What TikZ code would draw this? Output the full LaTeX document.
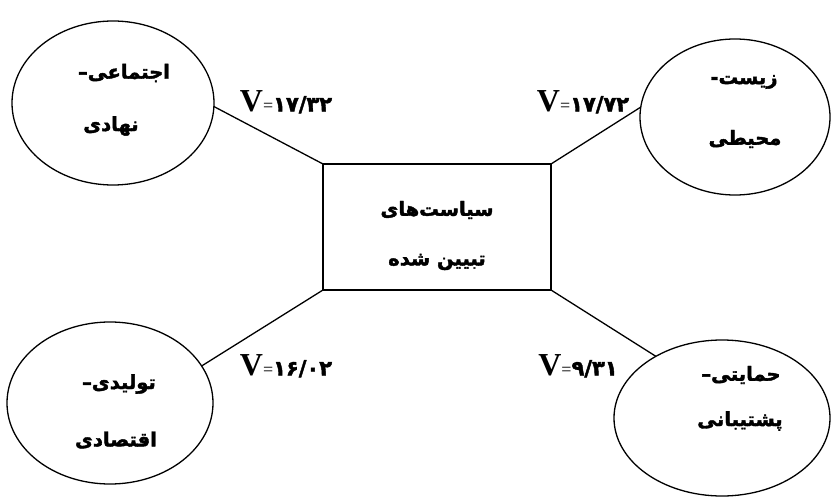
\documentclass[tikz,border=0pt]{standalone}
\usepackage{fontspec}
\usetikzlibrary{shapes.geometric}
\TeXXeTstate=1
\newfontfamily\fa[Script=Arabic,FakeBold=2]{DejaVu Sans Bold}
\newfontfamily\lserif{Liberation Serif}
\newcommand\vlab[1]{{\lserif\bfseries\fontsize{32}{32}\selectfont V}{\lserif\fontsize{18}{18}\selectfont =}{\fa\fontsize{21}{21}\selectfont #1}}
\newcommand\fat[1]{{\fa\fontsize{19.5}{19.5}\selectfont\beginR #1\endR}}
\begin{document}
\begin{tikzpicture}[x=1pt,y=-1pt,
  ell/.style={draw, line width=1.3pt, ellipse, inner sep=0pt, outer sep=0pt},
  box/.style={draw, line width=1.3pt, rectangle, inner sep=0pt, outer sep=0pt},
  txt/.style={inner sep=0pt, anchor=center},
  conn/.style={line width=1.3pt}]
\useasboundingbox (0,0) rectangle (833,497);
% ellipses
\node[ell, minimum width=202pt, minimum height=164pt] (tl) at (113,103) {};
\node[ell, minimum width=190pt, minimum height=156pt] (tr) at (735,117) {};
\node[ell, minimum width=206pt, minimum height=162pt] (bl) at (110,403) {};
\node[ell, minimum width=216pt, minimum height=156pt] (br) at (722,418) {};
% central box
\node[box, minimum width=228pt, minimum height=126pt] (c) at (437,227) {};
% texts
\node[txt] (tl1) at (124,73) {\fat{اجتماعی–}};
\node[txt] (tl2) at (111,126) {\fat{نهادی}};
\node[txt] (tr1) at (744,82) {\fat{زیست-}};
\node[txt] (tr2) at (745,139) {\fat{محیطی}};
\node[txt] (bl1) at (119,384) {\fat{تولیدی–}};
\node[txt] (bl2) at (116,440) {\fat{اقتصادی}};
\node[txt] (br1) at (741,375) {\fat{حمایتی–}};
\node[txt] (br2) at (740,421) {\fat{پشتیبانی}};
\node[txt] (c1) at (437,210) {\fat{سیاست‌های}};
\node[txt] (c2) at (437,262) {\fat{تبیین شده}};
% connectors
\draw[conn] (c.north west) -- (tl.-2);
\draw[conn] (c.north east) -- (tr.174);
\draw[conn] (c.south west) -- (bl.22);
\draw[conn] (c.south east) -- (br.137);
% labels
\node[txt] (v1) at (286,102) {\vlab{۱۷/۳۲}};
\node[txt] (v2) at (583,102) {\vlab{۱۷/۷۲}};
\node[txt] (v3) at (286,366) {\vlab{۱۶/۰۲}};
\node[txt] (v4) at (578,366) {\vlab{۹/۳۱}};
\end{tikzpicture}
\end{document}
